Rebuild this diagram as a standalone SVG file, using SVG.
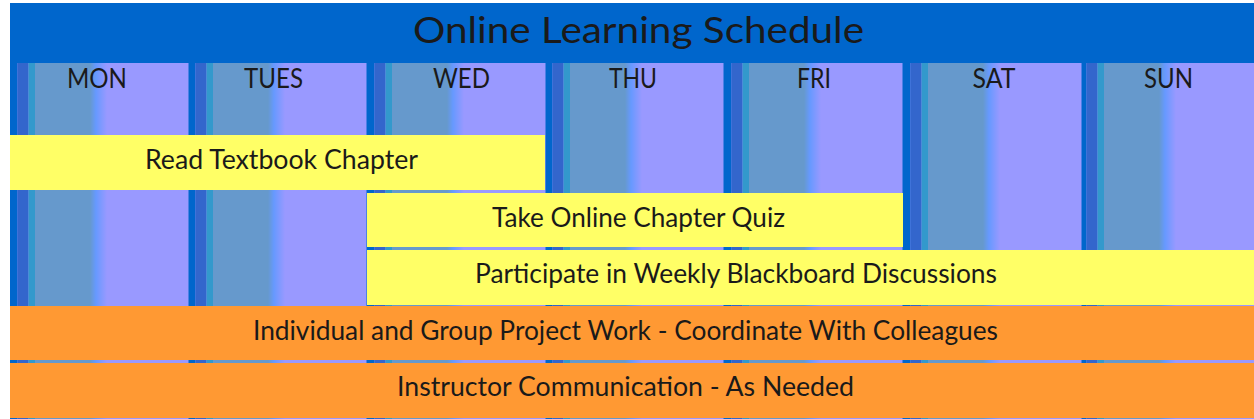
<svg xmlns="http://www.w3.org/2000/svg" width="1254" height="419" viewBox="0 0 1254 419">
  <defs>
    <style>
      .txt { font-family: Lato, "Open Sans", "Liberation Sans", sans-serif; fill: #1a1a1a; text-anchor: middle; }
      .title { font-size: 36px; }
      .day { font-size: 26px; }
      .bar { font-size: 26px; }
      .yellow { fill: #FFFF66; }
      .orange { fill: #FF9933; }
    </style>
    <linearGradient id="fade" x1="0" y1="0" x2="1" y2="0">
      <stop offset="0" stop-color="#6699CC"/>
      <stop offset="0.35" stop-color="#6699FF"/>
      <stop offset="0.6" stop-color="#7A99FF"/>
      <stop offset="1" stop-color="#9999FF"/>
    </linearGradient>
    <g id="column">
      <rect x="7.5" y="0" width="171" height="356" fill="#9999FF"/>
      <rect x="7.5" y="0" width="11" height="356" fill="#3366CC"/>
      <rect x="18.5" y="0" width="6.5" height="356" fill="#3399CC"/>
      <rect x="25" y="0" width="55" height="356" fill="#6699CC"/>
      <rect x="80" y="0" width="17" height="356" fill="url(#fade)"/>
    </g>
  </defs>

  <rect x="0" y="0" width="1254" height="419" fill="#FFFFFF"/>

  <g id="header">
    <rect x="10" y="3" width="1244" height="416" fill="#0066CC"/>
    <text class="txt title" x="638.5" y="43" textLength="451" lengthAdjust="spacingAndGlyphs">Online Learning Schedule</text>
  </g>

  <g id="columns">
    <g id="col-mon">
      <use href="#column" x="10" y="63"/>
      <text class="txt day" x="97" y="88" textLength="60" lengthAdjust="spacingAndGlyphs">MON</text>
    </g>
    <g id="col-tues">
      <use href="#column" x="188" y="63"/>
      <text class="txt day" x="273.5" y="88" textLength="59" lengthAdjust="spacingAndGlyphs">TUES</text>
    </g>
    <g id="col-wed">
      <use href="#column" x="367" y="63"/>
      <text class="txt day" x="461.5" y="88" textLength="57" lengthAdjust="spacingAndGlyphs">WED</text>
    </g>
    <g id="col-thu">
      <use href="#column" x="545" y="63"/>
      <text class="txt day" x="633" y="88" textLength="48" lengthAdjust="spacingAndGlyphs">THU</text>
    </g>
    <g id="col-fri">
      <use href="#column" x="724" y="63"/>
      <text class="txt day" x="814" y="88" textLength="34" lengthAdjust="spacingAndGlyphs">FRI</text>
    </g>
    <g id="col-sat">
      <use href="#column" x="903" y="63"/>
      <text class="txt day" x="994" y="88" textLength="43" lengthAdjust="spacingAndGlyphs">SAT</text>
    </g>
    <g id="col-sun">
      <use href="#column" x="1079" y="63"/>
      <text class="txt day" x="1168.5" y="88" textLength="49" lengthAdjust="spacingAndGlyphs">SUN</text>
    </g>
  </g>

  <g id="task-read">
    <rect class="yellow" x="10" y="135" width="535" height="55"/>
    <text class="txt bar" x="281.5" y="169" textLength="273" lengthAdjust="spacingAndGlyphs">Read Textbook Chapter</text>
  </g>
  <g id="task-quiz">
    <rect class="yellow" x="367" y="193" width="536" height="54"/>
    <text class="txt bar" x="638.5" y="227" textLength="293" lengthAdjust="spacingAndGlyphs">Take Online Chapter Quiz</text>
  </g>
  <g id="task-discuss">
    <rect class="yellow" x="367" y="250" width="887" height="55"/>
    <text class="txt bar" x="736" y="283" textLength="522" lengthAdjust="spacingAndGlyphs">Participate in Weekly Blackboard Discussions</text>
  </g>
  <g id="task-project">
    <rect class="orange" x="10" y="306" width="1244" height="54"/>
    <text class="txt bar" x="625.5" y="340" textLength="745" lengthAdjust="spacingAndGlyphs">Individual and Group Project Work - Coordinate With Colleagues</text>
  </g>
  <g id="task-instructor">
    <rect class="orange" x="10" y="363" width="1244" height="55"/>
    <text class="txt bar" x="625.5" y="396" textLength="457" lengthAdjust="spacingAndGlyphs">Instructor Communication - As Needed</text>
  </g>

  <g id="connectors"></g>
</svg>
